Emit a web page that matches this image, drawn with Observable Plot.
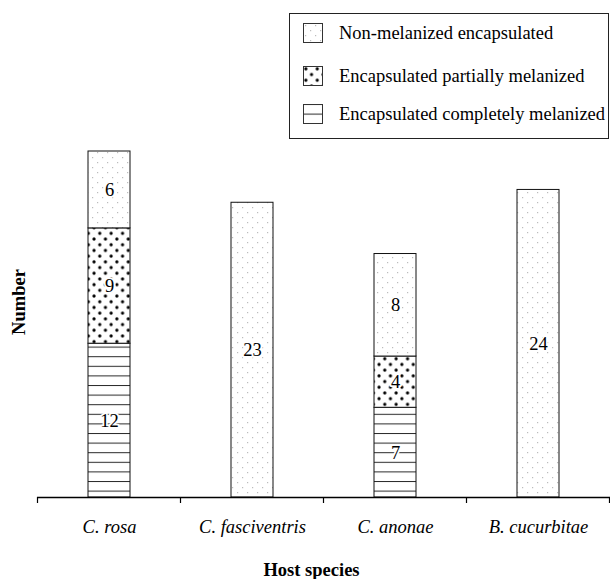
<!DOCTYPE html>
<html>
<head>
<meta charset="utf-8">
<script src="https://cdn.jsdelivr.net/npm/d3@7"></script>
<script src="https://cdn.jsdelivr.net/npm/@observablehq/plot@0.6"></script>
<style>
  body { margin: 0; background: #fff; }
  #wrap { position: relative; width: 610px; height: 579px; overflow: hidden;
          font-family: "Liberation Serif", "Times New Roman", serif; color: #000; }
  #legend { position: absolute; left: 289px; top: 13px; width: 320px; height: 126px;
            box-sizing: border-box; border: 1.3px solid #222; background: #fff; }
  .lrow { position: absolute; left: 13px; height: 20px; line-height: 20px; font-size: 18.5px; white-space: nowrap; }
  .lrow svg { position: absolute; left: 0; top: 0; }
  .lrow span { position: absolute; left: 36px; top: 0; }
  #chart { position: absolute; left: 0; top: 145px; }
  #ylab { position: absolute; left: 19px; top: 302px; transform: translate(-50%, -50%) rotate(-90deg);
          font-weight: bold; font-size: 18.5px; white-space: nowrap; }
  #xlab { position: absolute; left: 0; width: 623px; top: 560px; height: 20px; line-height: 20px;
          text-align: center; font-weight: bold; font-size: 18.5px; white-space: nowrap; }
  #chart svg g[aria-label="x-axis tick label"] text { font-style: italic; }
</style>
</head>
<body>
<svg width="0" height="0" style="position:absolute">
  <defs>
    <pattern id="pat-non" patternUnits="userSpaceOnUse" width="10" height="10">
      <rect width="10" height="10" fill="#fff"/>
      <rect x="2" y="2" width="1.2" height="1.2" fill="#bcbcbc"/>
      <rect x="7" y="7" width="1.2" height="1.2" fill="#bcbcbc"/>
    </pattern>
    <pattern id="pat-partial" patternUnits="userSpaceOnUse" width="11.4" height="11.4">
      <rect width="11.4" height="11.4" fill="#fff"/>
      <circle cx="2.85" cy="2.85" r="1.6" fill="#000"/>
      <circle cx="8.55" cy="8.55" r="1.6" fill="#000"/>
    </pattern>
    <pattern id="pat-complete" patternUnits="userSpaceOnUse" width="10" height="9.6">
      <rect width="10" height="9.6" fill="#fff"/>
      <rect x="0" y="0" width="10" height="1" fill="#2a2a2a"/>
    </pattern>
  </defs>
</svg>
<div id="wrap">
  <div id="legend"></div>
  <div id="ylab"></div>
  <div id="chart"></div>
  <div id="xlab"></div>
</div>
<script>
// ---- data ----
const hosts = ["C. rosa", "C. fasciventris", "C. anonae", "B. cucurbitae"];
const types = ["Encapsulated completely melanized", "Encapsulated partially melanized", "Non-melanized encapsulated"];
const completelyMelanized = [12, 0, 7, 0];
const partiallyMelanized = [9, 0, 4, 0];
const nonMelanized = [6, 23, 8, 24];
const legendOrder = ["Non-melanized encapsulated", "Encapsulated partially melanized", "Encapsulated completely melanized"];
const patternIds = ["pat-complete", "pat-partial", "pat-non"];
const yLabel = "Number";
const xLabel = "Host species";

const series = [completelyMelanized, partiallyMelanized, nonMelanized];
const rows = [];
hosts.forEach((h, i) => {
  series.forEach((arr, j) => {
    if (arr[i] > 0) rows.push({host: h, type: types[j], value: arr[i]});
  });
});

const font = '"Liberation Serif", "Times New Roman", serif';
const chart = Plot.plot({
  width: 610,
  height: 400,
  marginLeft: 37,
  marginRight: 0,
  marginTop: 6,
  marginBottom: 48,
  style: {fontFamily: font, fontSize: "18.5px", background: "transparent", color: "#000"},
  x: {domain: hosts, paddingInner: 0.707, paddingOuter: 0.3535, label: null},
  y: {domain: [0, 27], axis: null},
  color: {domain: types, range: types.map((t, j) => `url(#${patternIds[j]})`)},
  marks: [
    Plot.barY(rows, {x: "host", y: "value", fill: "type", order: types, stroke: "#111", strokeWidth: 1}),
    Plot.text(rows, Plot.stackY({x: "host", y: "value", z: "type", order: types, text: "value",
      fill: "#000", stroke: "#fff", strokeWidth: 3.5, fontSize: 18.5, fontFamily: font})),
    Plot.ruleY([0], {stroke: "#000", strokeWidth: 1.3}),
    Plot.axisX({tickSize: 0, tickPadding: 22, fontSize: 18.5, fontFamily: font, label: null})
  ]
});

// boundary ticks between host categories, derived from the x band scale
const sx = chart.scale("x");
const sy = chart.scale("y");
const step = sx.step != null ? sx.step : (sx.range[1] - sx.range[0]) / (hosts.length - sx.paddingInner + 2 * sx.paddingOuter);
const bw = sx.bandwidth;
const bounds = hosts.map(h => sx.apply(h) - (step - bw) / 2);
bounds.push(bounds[bounds.length - 1] + step);
const y0 = sy.apply(0);
d3.select(chart).append("g").attr("stroke", "#000").attr("stroke-width", 1.2)
  .selectAll("line").data(bounds).join("line")
  .attr("x1", d => d).attr("x2", d => d).attr("y1", y0).attr("y2", y0 + 6);

document.getElementById("chart").appendChild(chart);
document.getElementById("ylab").textContent = yLabel;
document.getElementById("xlab").textContent = xLabel;

// legend
const legend = document.getElementById("legend");
const rowTops = [9, 52, 90];
legendOrder.forEach((t, k) => {
  const j = types.indexOf(t);
  const row = document.createElement("div");
  row.className = "lrow";
  row.style.top = rowTops[k] + "px";
  row.innerHTML = `<svg width="20" height="20"><rect x="0.5" y="0.5" width="19" height="19" fill="url(#${patternIds[j]})" stroke="#333" stroke-width="1"/></svg><span></span>`;
  row.querySelector("span").textContent = t;
  legend.appendChild(row);
});
</script>
</body>
</html>
